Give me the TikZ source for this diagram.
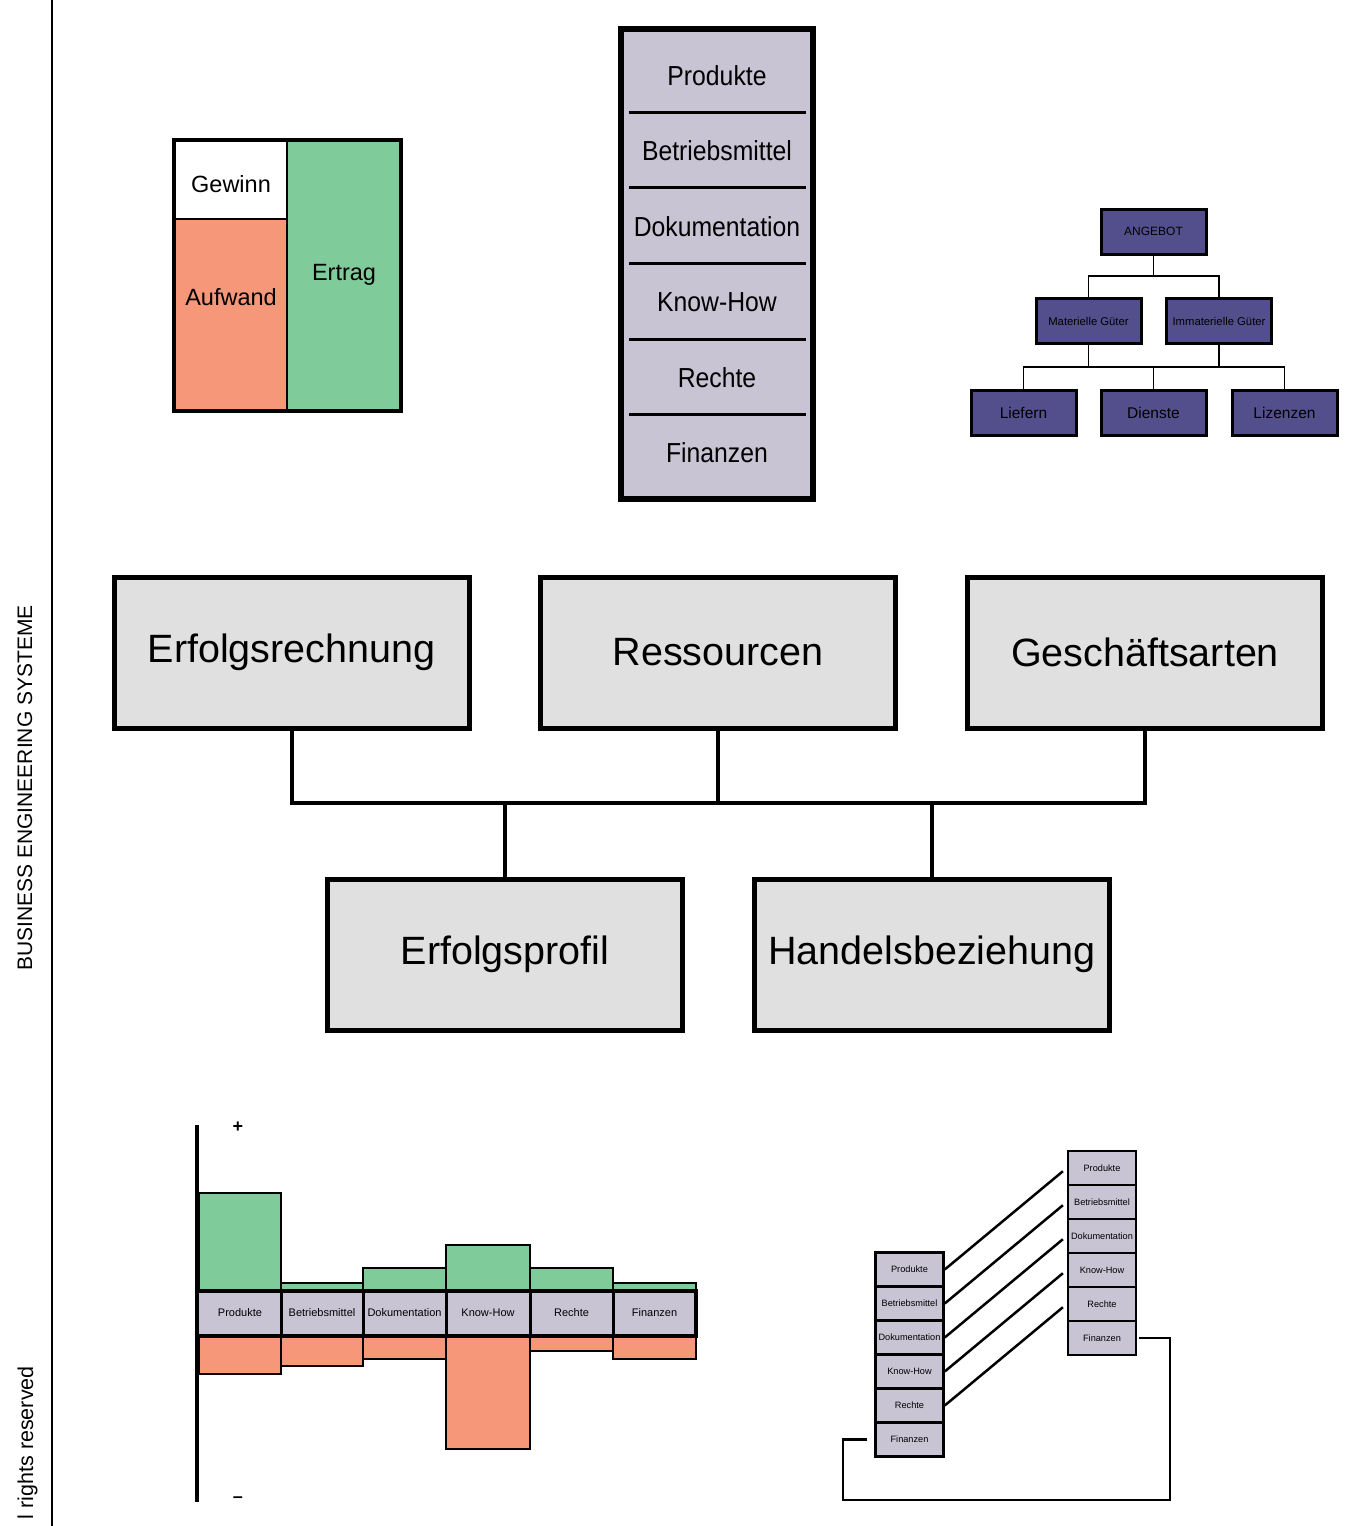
\documentclass[tikz,border=0pt]{standalone}
\usepackage{fontspec}
\setmainfont{Liberation Sans}
\newfontfamily\narrowfont[FakeStretch=0.9]{Liberation Sans}
\definecolor{grn}{HTML}{80CB9A}
\definecolor{slm}{HTML}{F59778}
\definecolor{lav}{HTML}{C9C4D3}
\definecolor{lgray}{HTML}{E0E0E0}
\definecolor{purp}{HTML}{534F8C}
\newcommand{\myfs}[1]{\fontsize{#1}{#1}\selectfont}
\tikzset{
  bigbox/.style={draw, line width=5pt, fill=lgray, minimum width=355pt, minimum height=151pt, inner sep=0pt, font=\myfs{39.5}},
  conn/.style={line width=4pt},
  purpbox/.style={draw, line width=3pt, fill=purp, minimum width=105pt, minimum height=45pt, inner sep=0pt},
  tree/.style={line width=1.5pt},
  cell/.style={draw, line width=2.5pt, fill=lav, minimum width=68pt, minimum height=34pt, inner sep=0pt, font=\myfs{9.2}},
  link/.style={line width=2.5pt},
  restext/.style={font=\narrowfont\myfs{27.5}},
  chartlbl/.style={font=\myfs{11}},
}
\begin{document}
\begin{tikzpicture}[x=1pt,y=-1pt]
\useasboundingbox (0,0) rectangle (1358,1526);
\fill[white] (0,0) rectangle (1358,1526);

% sidebar
\draw[line width=2.5pt] (52,0) -- (52,1526);
\node[rotate=90, anchor=base, font=\myfs{21}, inner sep=0pt] (side) at (32,788) {BUSINESS ENGINEERING SYSTEME};
\node[rotate=90, anchor=base east, font=\myfs{21.5}, inner sep=0pt] (rights) at (33,1366) {l rights reserved};

% top-left box
\fill[white] (174,140) rectangle (287,219);
\fill[slm] (174,219) rectangle (287,411);
\fill[grn] (287,140) rectangle (401,411);
\draw[line width=2pt] (174,219) -- (287,219);
\draw[line width=2pt] (287,140) -- (287,411);
\draw[line width=4.5pt] (174,140) rectangle (401,411);
\node[font=\myfs{23.5}] (gew) at (231,184) {Gewinn};
\node[font=\myfs{23.5}] (auf) at (231,297) {Aufwand};
\node[font=\myfs{23.5}] (ert) at (344,275) {Ertrag};

% resources column
\node[draw, line width=6pt, fill=lav, minimum width=192pt, minimum height=470pt, inner sep=0pt] (rcol) at (717,264) {};
\foreach \yy in {112,187,263,339,414} {\draw[line width=3pt] (629,\yy) -- (806,\yy);}
\node[restext] (ra) at (717,76) {Produkte};
\node[restext] (rb) at (717,151) {Betriebsmittel};
\node[restext] (rc) at (717,227) {Dokumentation};
\node[restext] (rd) at (717,302) {Know-How};
\node[restext] (re) at (717,378) {Rechte};
\node[restext] (rf) at (717,453) {Finanzen};

% ANGEBOT tree
\node[purpbox, font=\myfs{12}] (ang) at (1153.5,231.5) {ANGEBOT};
\node[purpbox, font=\myfs{11.3}] (mat) at (1088.5,321) {Materielle Güter};
\node[purpbox, font=\myfs{11.3}] (imm) at (1219,321) {Immaterielle Güter};
\node[purpbox, font=\myfs{15.5}] (lie) at (1023.5,412.5) {Liefern};
\node[purpbox, font=\myfs{15.5}] (die) at (1153.5,412.5) {Dienste};
\node[purpbox, font=\myfs{15.5}] (liz) at (1284.5,412.5) {Lizenzen};
\coordinate (aj) at (1153.5,276);
\coordinate (bj) at (1153.5,367);
\draw[tree] (ang.south) -- (aj);
\draw[tree] (mat.north) |- (aj) -| (imm.north);
\draw[tree] (mat.south) -- (mat.south |- bj);
\draw[tree] (imm.south) -- (imm.south |- bj);
\draw[tree] (lie.north) |- (bj) -| (liz.north);
\draw[tree] (die.north) -- (bj);

% big boxes
\node[bigbox] (er) at (291.5,652.5) {Erfolgsrechnung};
\node[bigbox] (rs) at (718,652.5) {Ressourcen};
\node[bigbox] (ga) at (1145,652.5) {Geschäftsarten};
\node[bigbox] (ep) at (505,954.5) {Erfolgsprofil};
\node[bigbox] (hb) at (932,954.5) {Handelsbeziehung};
\coordinate (hj) at (718,803);
\draw[conn] (er.south) |- (hj) -| (ga.south);
\draw[conn] (rs.south) -- (hj);
\draw[conn] (ep.north) -- (ep.north |- hj);
\draw[conn] (hb.north) -- (hb.north |- hj);

% bar chart
\filldraw[fill=grn, line width=2.5pt] (199,1291) rectangle (281,1193);
\filldraw[fill=grn, line width=2.5pt] (281,1291) rectangle (363,1283);
\filldraw[fill=grn, line width=2.5pt] (363,1291) rectangle (446,1268);
\filldraw[fill=grn, line width=2.5pt] (446,1291) rectangle (530,1245);
\filldraw[fill=grn, line width=2.5pt] (530,1291) rectangle (613,1268);
\filldraw[fill=grn, line width=2.5pt] (613,1291) rectangle (696,1283);
\filldraw[fill=slm, line width=2.5pt] (199,1336) rectangle (281,1374);
\filldraw[fill=slm, line width=2.5pt] (281,1336) rectangle (363,1366);
\filldraw[fill=slm, line width=2.5pt] (363,1336) rectangle (446,1359);
\filldraw[fill=slm, line width=2.5pt] (446,1336) rectangle (530,1449);
\filldraw[fill=slm, line width=2.5pt] (530,1336) rectangle (613,1351);
\filldraw[fill=slm, line width=2.5pt] (613,1336) rectangle (696,1359);
\fill[lav] (199,1291) rectangle (696,1336);
\foreach \xx in {281,363,446,530,613} {\draw[line width=3pt] (\xx,1291) -- (\xx,1336);}
\draw[line width=4pt] (696,1289) -- (696,1338);
\draw[line width=4.5pt] (197,1291) -- (698,1291);
\draw[line width=4.5pt] (197,1336) -- (698,1336);
\node[chartlbl] (ca) at (240,1313) {Produkte};
\node[chartlbl] (cb) at (322,1313) {Betriebsmittel};
\node[chartlbl] (cc) at (404.5,1313) {Dokumentation};
\node[chartlbl] (cd) at (488,1313) {Know-How};
\node[chartlbl] (ce) at (571.5,1313) {Rechte};
\node[chartlbl] (cf) at (654.5,1313) {Finanzen};
\draw[line width=4pt] (197,1125) -- (197,1502);
\node[font=\bfseries\myfs{18}, inner sep=0pt] (plus) at (238,1127) {+};
\node[font=\bfseries\myfs{18}, inner sep=0pt] (minus) at (238,1500) {–};

% bottom-right mapping
\foreach \i/\lab [count=\k from 0] in {1/Produkte,2/Betriebsmittel,3/Dokumentation,4/Know-How,5/Rechte,6/Finanzen} {
  \node[cell] (l\i) at (909.5,1269.5+34*\k) {\lab};
  \node[cell] (r\i) at (1102,1168+34*\k) {\lab};
}
\foreach \i in {1,...,5} {\draw[link, shorten >=5pt] (l\i.east) -- (r\i.west);}
\coordinate (lb) at (843,1500);
\coordinate (rb) at (1170,1500);
\draw[link, shorten <=7pt, shorten >=2pt] (l6.west) -| (lb) -- (rb) |- (r6.east);
\end{tikzpicture}
\end{document}
